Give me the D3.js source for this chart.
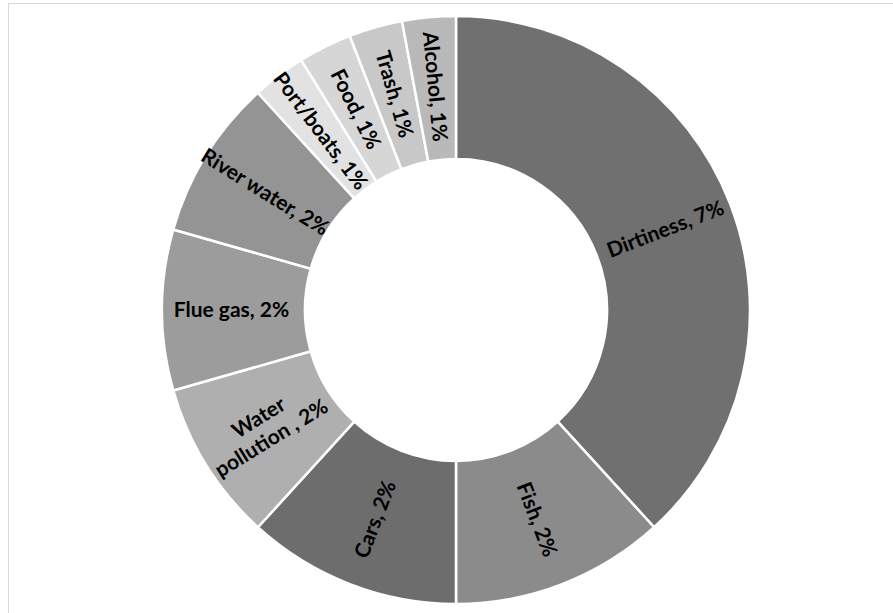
<!DOCTYPE html>
<html>
<head>
<meta charset="utf-8">
<script src="https://cdn.jsdelivr.net/npm/d3@7"></script>
<style>
  body { margin: 0; background: #fff; }
  svg text { font-family: Lato, "Open Sans", sans-serif; font-weight: bold; }
</style>
</head>
<body>
<div id="chart"></div>
<script>
// categories, going clockwise from 12 o'clock
var categories = ["Dirtiness", "Fish", "Cars", "Water pollution ", "Flue gas", "River water", "Port/boats", "Food", "Trash", "Alcohol"]
// counts
var counts = [13, 4, 4, 3, 3, 3, 1, 1, 1, 1]
// percent shown in the labels
var pctLabels = ["7%", "2%", "2%", "2%", "2%", "2%", "1%", "1%", "1%", "1%"]
var colors = ["#707070", "#8b8b8b", "#6d6d6d", "#afafaf", "#9c9c9c", "#949494", "#e2e2e2", "#d6d6d6", "#c8c8c8", "#b9b9b9"]

var width = 893, height = 613
var cx = 456, cy = 310
var outerR = 294, innerR = 151

var svg = d3.select("#chart").append("svg")
	.attr("width", width)
	.attr("height", height)

// chart area border (only top and left show inside the window)
svg.append("rect")
	.attr("x", 8.5).attr("y", 3.5)
	.attr("width", 900).attr("height", 620)
	.attr("fill", "none")
	.attr("stroke", "#d9d9d9")
	.attr("stroke-width", 1)

var data = categories.map(function(c, i) {
	return { name: c, value: counts[i], pct: pctLabels[i], color: colors[i] }
})

var pie = d3.pie()
	.value(function(d) { return d.value })
	.sort(null)

var arc = d3.arc()
	.innerRadius(innerR)
	.outerRadius(outerR)

var g = svg.append("g")
	.attr("transform", "translate(" + cx + "," + cy + ")")

var arcs = pie(data)

g.selectAll(".slice")
	.data(arcs)
	.enter()
	.append("path")
	.attr("class", "slice")
	.attr("d", arc)
	.attr("fill", function(d) { return d.data.color })
	.attr("stroke", "#fff")
	.attr("stroke-width", 2.5)

var labelR = (innerR + outerR) / 2 + 2

var labels = g.selectAll(".lbl")
	.data(arcs)
	.enter()
	.append("text")
	.attr("class", "lbl")
	.attr("font-size", "21px")
	.attr("fill", "#000")
	.attr("text-anchor", "middle")
	.attr("transform", function(d) {
		var a = (d.startAngle + d.endAngle) / 2
		var x = labelR * Math.sin(a)
		var y = -labelR * Math.cos(a)
		var deg = a * 180 / Math.PI
		// radial text, kept readable
		var rot = deg < 180 ? deg - 90 : deg - 270
		return "translate(" + x + "," + y + ") rotate(" + rot + ")"
	})

labels.each(function(d) {
	var t = d3.select(this)
	if (d.data.name == "Water pollution ") {
		t.append("tspan").attr("x", 0).attr("dy", "-0.25em").text("Water")
		t.append("tspan").attr("x", 0).attr("dy", "1.15em").text("pollution , " + d.data.pct)
	} else {
		t.append("tspan").attr("x", 0).attr("dy", "0.35em").text(d.data.name + ", " + d.data.pct)
	}
})
</script>
</body>
</html>
